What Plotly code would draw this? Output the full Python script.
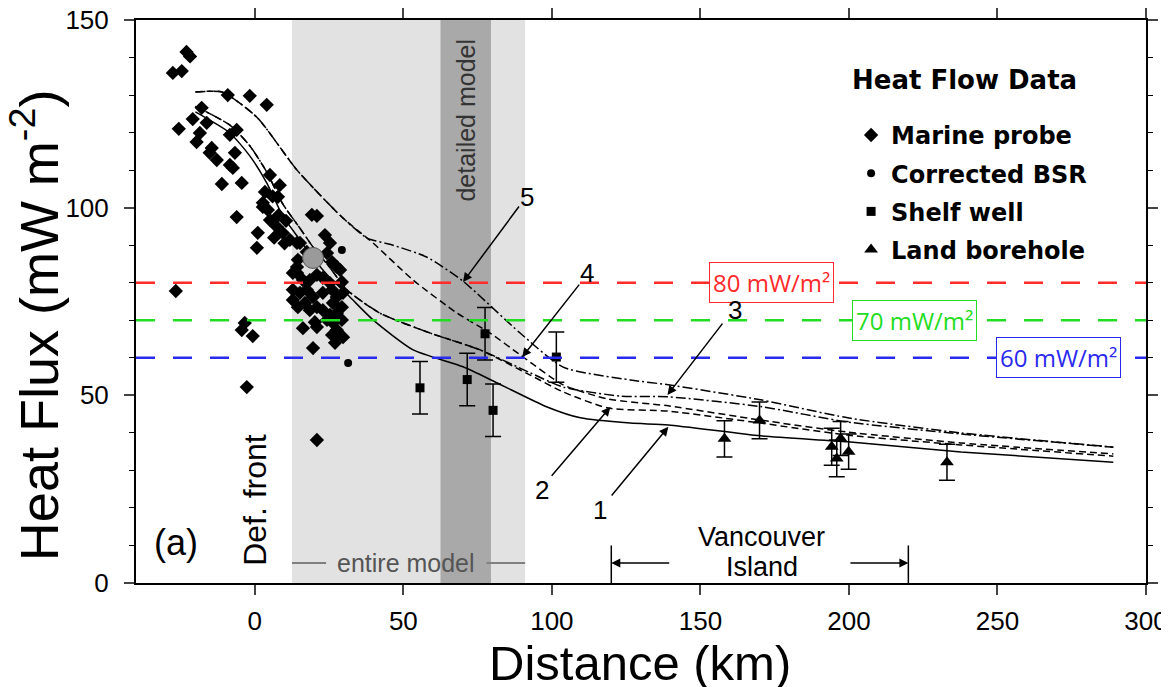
import plotly.graph_objects as go

# ---------------- data ----------------
# Model curves (Distance km, heat flux mW/m2)
c1_x = [-20, -8.4, -1.7, 4.0, 9.4, 15.2, 19.6, 25.3, 32.0, 39.8, 53.3, 70.1, 81.6, 98.4, 109.6, 126.4, 139.2, 170.3, 199.6, 237.7, 289]
c1_y = [125.5, 119.9, 113.8, 106.6, 97.8, 91.4, 86.6, 81.3, 76.2, 70.1, 62.1, 57.6, 53.3, 46.9, 44.0, 42.6, 42.1, 39.2, 37.6, 34.9, 32.2]

c2_x = [-20, -8.4, -1.7, 4.0, 9.4, 15.2, 19.6, 25.3, 31.0, 42.1, 59.0, 75.9, 92.7, 103.8, 119.0, 139.2, 170.3, 199.6, 237.7, 289]
c2_y = [127.0, 122.0, 116.5, 109.5, 101.0, 94.5, 89.5, 84.0, 78.1, 71.9, 66.6, 62.1, 55.4, 50.9, 46.6, 45.8, 42.6, 39.4, 36.8, 33.8]

c3_x = [-20, -8.4, -1.7, 4.0, 9.4, 15.2, 19.6, 25.3, 31.0, 42.1, 59.0, 75.9, 92.7, 103.8, 123.1, 139.2, 170.3, 199.6, 237.7, 289]
c3_y = [127.0, 122.0, 116.5, 109.5, 101.0, 94.5, 89.5, 84.0, 78.1, 71.9, 66.6, 62.1, 56.0, 52.2, 49.8, 49.6, 47.0, 42.9, 39.7, 36.2]

c4_x = [-20, -11, 0.7, 14.2, 29.3, 37.8, 39.8, 53.3, 68.1, 79.2, 89.3, 103.8, 119.0, 139.2, 170.3, 199.6, 237.7, 289]
c4_y = [130.8, 130.8, 124.1, 110.0, 97.5, 91.9, 90.6, 80.7, 71.9, 66.6, 60.8, 52.8, 49.0, 47.2, 43.4, 40.2, 37.3, 34.4]

c5_x = [-20, -11, 0.7, 14.2, 29.3, 37.8, 46.5, 58.0, 70.1, 89.3, 103.8, 126.4, 139.2, 170.3, 199.6, 237.7, 289]
c5_y = [130.8, 130.8, 124.1, 110.0, 97.5, 91.9, 90.0, 86.8, 80.4, 66.6, 57.5, 54.1, 52.8, 48.8, 44.0, 40.0, 36.2]

# Marine probe heat flow
marine_x = [-23.0, -21.8, -27.6, -24.6, -9.1, -1.7, 4.0, -17.9, -20.9, -25.6, -16.2, -18.5, -19.6,
            -6.1, -8.4, -14.5, -12.8, -15.2, -6.7, -8.4, -7.4, -11.1, -4.4, 5.1, 3.4, 8.4, 7.8, 2.7,
            4.4, -6.1, 19.2, 20.9, 1.0, 0.7, 2.7, 5.1, 7.4, 9.4, 11.8, 14.2, -26.6, -3.4, -4.4, -0.7,
            -2.7, 20.9, 19.6, 6.0, 10.5, 8.0, 6.5, 10.0,
            23.6, 25.3, 15.2, 17.5, 14.5, 14.2, 24.3, 26.0, 27.6, 28.7, 14.2, 16.2, 18.5, 20.9, 22.9,
            25.3, 29.3, 12.8, 15.2, 17.5, 19.6, 22.9, 26.0, 27.6, 29.7, 12.8, 14.5, 16.9, 18.5, 20.9,
            22.9, 26.3, 29.3, 27.6, 25.3, 24.3, 26.3, 29.3, 27.6, 26.0, 27.0, 29.7, 16.2, 20.2, 20.9,
            12.8]
marine_y = [141.5, 140.3, 135.9, 136.4, 130.0, 129.8, 127.4, 126.6, 123.6, 121.0, 122.6, 119.9, 117.5,
            120.7, 119.4, 115.9, 112.7, 114.6, 114.6, 111.4, 110.6, 106.3, 106.6, 108.7, 104.2, 106.0, 102.9, 101.3,
            99.4, 97.5, 98.1, 97.8, 93.3, 89.3, 100.2, 96.7, 94.9, 93.3, 91.4, 90.6, 77.8, 69.3, 67.4, 65.8,
            52.2, 38.1, 62.6, 103.0, 96.5, 98.0, 92.0, 90.5,
            92.7, 90.6, 90.6, 88.2, 86.1, 84.2, 87.9, 85.5, 84.2, 83.4, 82.6, 80.7, 80.7, 82.1, 81.3,
            79.9, 80.2, 78.1, 77.3, 78.1, 76.2, 77.3, 78.1, 76.2, 77.3, 75.4, 73.5, 74.6, 72.7, 73.5,
            72.7, 74.6, 73.5, 71.9, 71.4, 70.1, 69.3, 70.1, 67.4, 66.1, 64.0, 65.5, 67.9, 69.5, 68.2,
            82.6]

# Corrected BSR
bsr_x = [29.3, 31.4, 13.1]
bsr_y = [88.7, 58.6, 82.6]
bsr_mean_x = [19.6]
bsr_mean_y = [86.6]

# Shelf wells
shelf_x = [55.6, 71.5, 77.5, 80.2, 101.5]
shelf_y = [52.0, 54.2, 66.4, 46.0, 60.2]
shelf_err = [7.0, 7.0, 7.0, 7.0, 6.7]

# Land boreholes
land_x = [158.1, 169.9, 194.2, 195.9, 197.2, 199.9, 233.0]
land_y = [38.4, 43.3, 36.3, 33.2, 38.5, 35.0, 32.2]
land_err = [4.8, 4.9, 4.9, 4.9, 4.5, 4.7, 4.8]

# Reference heat-flow levels
ref_levels = [80, 70, 60]
ref_colors = ["#ff2a2a", "#22dd22", "#2a2aee"]
ref_labels = ["80 mW/m²", "70 mW/m²", "60 mW/m²"]
ref_label_x = [174, 222, 270.7]

# Model extents (km)
entire_model = [12.5, 91.0]
detailed_model = [62.5, 79.5]
vancouver_island = [120, 220]

# curve labels
curve_labels = ["1", "2", "3", "4", "5"]
label_x = [116.3, 96.8, 161.8, 111.9, 91.7]
label_y = [19.5, 24.8, 72.7, 82.6, 102.9]
tail_x = [119.7, 99.5, 157.8, 109.6, 89.3]
tail_y = [22.9, 28.2, 69.5, 79.9, 100.7]
tip_x = [139.2, 119.7, 138.9, 90.0, 70.1]
tip_y = [41.6, 46.9, 50.1, 60.2, 80.2]

x_ticks = [0, 50, 100, 150, 200, 250, 300]
y_ticks = [0, 50, 100, 150]

# ---------------- figure ----------------
FONT = "Liberation Sans, Arial, Helvetica, sans-serif"
LEGFONT = "DejaVu Sans, sans-serif"
fig = go.Figure()

# shaded model bands
fig.add_shape(type="rect", xref="x", yref="paper", x0=entire_model[0], x1=entire_model[1], y0=0, y1=1,
              fillcolor="#e2e2e2", line_width=0, layer="below")
fig.add_shape(type="rect", xref="x", yref="paper", x0=detailed_model[0], x1=detailed_model[1], y0=0, y1=1,
              fillcolor="#a9a9a9", line_width=0, layer="below")

# model curves
curve_defs = [
    (c1_x, c1_y, "solid"),
    (c2_x, c2_y, "7px,4px"),
    (c3_x, c3_y, "10px,3px,2px,3px"),
    (c4_x, c4_y, "7px,4px"),
    (c5_x, c5_y, "10px,3px,2px,3px"),
]
for xs, ys, dash in curve_defs:
    fig.add_trace(go.Scatter(x=xs, y=ys, mode="lines",
                             line=dict(color="black", width=1.5, dash=dash, shape="spline", smoothing=0.6),
                             showlegend=False, hoverinfo="skip"))

# data
fig.add_trace(go.Scatter(x=marine_x, y=marine_y, mode="markers", name="<b>Marine probe</b>",
                         legendgroup="a",
                         marker=dict(symbol="diamond", size=11, color="black", line_width=0)))
fig.add_trace(go.Scatter(x=bsr_mean_x, y=bsr_mean_y, mode="markers", showlegend=False,
                         marker=dict(symbol="circle", size=21, color="#9a9a9a",
                                     line=dict(color="#555555", width=1))))
fig.add_trace(go.Scatter(x=bsr_x, y=bsr_y, mode="markers", name="<b>Corrected BSR</b>",
                         legendgroup="b",
                         marker=dict(symbol="circle", size=8, color="black")))
fig.add_trace(go.Scatter(x=shelf_x, y=shelf_y, mode="markers", name="<b>Shelf well</b>",
                         legendgroup="c",
                         marker=dict(symbol="square", size=9, color="black"),
                         error_y=dict(type="data", array=shelf_err, color="black", thickness=1.5, width=8)))
fig.add_trace(go.Scatter(x=land_x, y=land_y, mode="markers", name="<b>Land borehole</b>",
                         legendgroup="d",
                         marker=dict(symbol="triangle-up", size=12, color="black"),
                         error_y=dict(type="data", array=land_err, color="black", thickness=1.5, width=8)))

# reference levels
for lv, col, lab, lx in zip(ref_levels, ref_colors, ref_labels, ref_label_x):
    fig.add_shape(type="line", xref="paper", yref="y", x0=0, x1=1, y0=lv, y1=lv,
                  line=dict(color=col, width=2.5, dash="19px,18px"), layer="above")
    fig.add_annotation(x=lx, y=lv, xref="x", yref="y", text=lab, showarrow=False,
                       xanchor="center", yanchor="middle",
                       font=dict(family="Open Sans, Noto Sans, sans-serif", size=24, color=col),
                       bgcolor="white", bordercolor=col, borderwidth=1, borderpad=3)

# curve labels and arrows
for lab, lx, ly, tx, ty, px, py in zip(curve_labels, label_x, label_y, tail_x, tail_y, tip_x, tip_y):
    fig.add_annotation(x=lx, y=ly, text=lab, showarrow=False, xanchor="center", yanchor="middle",
                       font=dict(family=FONT, size=26, color="black"))
    fig.add_annotation(x=px, y=py, ax=tx, ay=ty, xref="x", yref="y", axref="x", ayref="y", text="",
                       showarrow=True, arrowhead=2, arrowsize=1.2, arrowwidth=1.5, arrowcolor="black", standoff=0)

# Vancouver Island markers
for vx in vancouver_island:
    fig.add_shape(type="line", xref="x", yref="y", x0=vx, x1=vx, y0=0, y1=10,
                  line=dict(color="black", width=1.5))
fig.add_annotation(x=vancouver_island[0], y=5.3, ax=vancouver_island[0] + 20, ay=5.3, xref="x", yref="y",
                   axref="x", ayref="y", text="", showarrow=True, arrowhead=2, arrowsize=1.2,
                   arrowwidth=1.5, arrowcolor="black", standoff=0)
fig.add_annotation(x=vancouver_island[1], y=5.3, ax=vancouver_island[1] - 20, ay=5.3, xref="x", yref="y",
                   axref="x", ayref="y", text="", showarrow=True, arrowhead=2, arrowsize=1.2,
                   arrowwidth=1.5, arrowcolor="black", standoff=0)
fig.add_annotation(x=170.6, y=12.3, text="Vancouver", showarrow=False, xanchor="center", yanchor="middle",
                   font=dict(family=FONT, size=27, color="black"))
fig.add_annotation(x=170.6, y=4.3, text="Island", showarrow=False, xanchor="center", yanchor="middle",
                   font=dict(family=FONT, size=27, color="black"))

# entire model label
fig.add_shape(type="line", xref="x", yref="y", x0=entire_model[0], x1=24, y0=5.3, y1=5.3,
              line=dict(color="#808080", width=2))
fig.add_shape(type="line", xref="x", yref="y", x0=78, x1=entire_model[1], y0=5.3, y1=5.3,
              line=dict(color="#808080", width=2))
fig.add_annotation(x=51, y=5.3, text="entire model", showarrow=False, xanchor="center", yanchor="middle",
                   font=dict(family=FONT, size=25, color="#555555"))
fig.add_annotation(x=71, y=123.4, text="detailed model", textangle=-90, showarrow=False,
                   xanchor="center", yanchor="middle",
                   font=dict(family=FONT, size=25, color="#333333"))
fig.add_annotation(x=0, y=22.1, text="Def. front", textangle=-90, showarrow=False,
                   xanchor="center", yanchor="middle",
                   font=dict(family=FONT, size=32, color="black"))
fig.add_annotation(x=-26.6, y=10.7, text="(a)", showarrow=False, xanchor="center", yanchor="middle",
                   font=dict(family=FONT, size=36, color="black"))

# legend heading
fig.add_annotation(xref="paper", yref="paper", x=0.7069, y=0.893, text="<b>Heat Flow Data</b>",
                   showarrow=False, xanchor="left", yanchor="middle",
                   font=dict(family=LEGFONT, size=26, color="black"))

# axis titles
fig.add_annotation(xref="paper", yref="paper", x=0.499, y=-0.142, text="Distance (km)", showarrow=False,
                   xanchor="center", yanchor="middle",
                   font=dict(family=FONT, size=49, color="black"))
fig.add_annotation(xref="paper", yref="paper", x=-0.1, y=0.458, text="Heat Flux (mW m<sup>-2</sup>)",
                   textangle=-90, showarrow=False, xanchor="center", yanchor="middle",
                   font=dict(family=FONT, size=54, color="black"))

fig.update_layout(
    width=1161, height=679,
    margin=dict(l=128, r=23, t=12, b=104, autoexpand=False),
    paper_bgcolor="white", plot_bgcolor="white",
    font=dict(family=FONT, color="black"),
    legend=dict(x=0.708, y=0.835, xanchor="left", yanchor="top", bgcolor="rgba(0,0,0,0)",
                font=dict(family=LEGFONT, size=24, color="black"),
                tracegroupgap=4, itemsizing="trace"),
    xaxis=dict(range=[-40, 300], tickvals=x_ticks, ticks="outside", ticklen=10, tickwidth=1.5,
               showline=True, linewidth=2, linecolor="black", mirror="ticks", showgrid=False,
               zeroline=False, tickfont=dict(size=26, family=FONT), ticklabelstandoff=4, automargin=False,
               ticklabeloverflow="allow"),
    yaxis=dict(range=[0, 150], tickvals=y_ticks, ticks="outside", ticklen=10, tickwidth=1.5,
               showline=True, linewidth=2, linecolor="black", mirror="ticks", showgrid=False,
               zeroline=False, tickfont=dict(size=26, family=FONT), ticklabelstandoff=10, automargin=False,
               ticklabeloverflow="allow",
               minor=dict(dtick=10, ticks="outside", ticklen=5, tickwidth=1, tickcolor="black")),
)

fig.write_html("out.html")
